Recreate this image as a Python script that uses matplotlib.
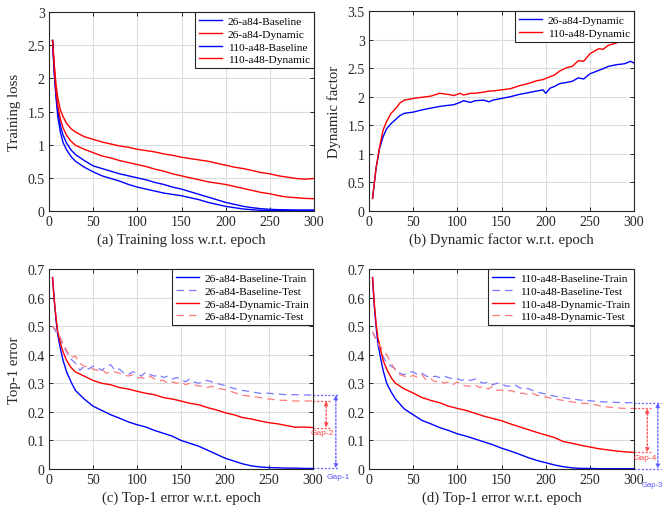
import matplotlib
matplotlib.use("Agg")
import matplotlib.pyplot as plt
from matplotlib.ticker import FuncFormatter

plt.rcParams['font.family'] = ['Liberation Serif', 'DejaVu Serif']

# ---------------- data ----------------
ep_a = [4, 6, 8, 10, 13, 16, 20, 25, 30, 40, 50, 60, 70, 80, 90, 100, 110, 120, 130, 140,
        150, 160, 170, 180, 190, 200, 210, 220, 230, 240, 250, 260, 270, 280, 290, 300]

loss_26_base = [2.57, 2.10, 1.75, 1.50, 1.28, 1.14, 1.02, 0.92, 0.85, 0.76, 0.68, 0.64, 0.60, 0.56,
                0.53, 0.50, 0.47, 0.43, 0.40, 0.36, 0.33, 0.29, 0.25, 0.21, 0.17, 0.13, 0.10, 0.07,
                0.05, 0.035, 0.025, 0.02, 0.018, 0.015, 0.015, 0.015]
loss_26_dyn = [2.57, 2.20, 1.90, 1.70, 1.52, 1.42, 1.32, 1.24, 1.19, 1.12, 1.08, 1.04, 1.01, 0.98,
               0.96, 0.93, 0.91, 0.89, 0.86, 0.84, 0.81, 0.79, 0.77, 0.75, 0.72, 0.69, 0.66, 0.64,
               0.61, 0.58, 0.56, 0.53, 0.51, 0.49, 0.48, 0.49]
loss_110_base = [2.57, 2.05, 1.70, 1.42, 1.18, 1.03, 0.92, 0.82, 0.75, 0.66, 0.59, 0.53, 0.49, 0.45,
                 0.40, 0.36, 0.33, 0.30, 0.27, 0.25, 0.23, 0.20, 0.17, 0.13, 0.10, 0.07, 0.05, 0.03,
                 0.02, 0.01, 0.008, 0.006, 0.005, 0.005, 0.005, 0.005]
loss_110_dyn = [2.57, 2.15, 1.80, 1.58, 1.38, 1.25, 1.14, 1.05, 0.99, 0.93, 0.88, 0.83, 0.80, 0.76,
                0.73, 0.70, 0.67, 0.63, 0.60, 0.56, 0.53, 0.50, 0.47, 0.44, 0.42, 0.40, 0.37, 0.34,
                0.31, 0.28, 0.26, 0.23, 0.21, 0.20, 0.19, 0.185]

ep_b = [4, 8, 12, 16, 20, 25, 30, 35, 40, 50, 60, 70, 80, 90, 96, 103, 107, 115, 120, 130, 136,
        140, 150, 160, 170, 180, 190, 197, 200, 205, 210, 216, 224, 230, 237, 243, 250, 260, 265,
        271, 280, 286, 290, 293, 296, 300]
dyn_26 = [0.22, 0.75, 1.10, 1.30, 1.44, 1.53, 1.60, 1.67, 1.71, 1.73, 1.77, 1.80, 1.83, 1.85, 1.86,
          1.90, 1.93, 1.90, 1.93, 1.94, 1.91, 1.94, 1.97, 2.00, 2.04, 2.07, 2.10, 2.12, 2.06, 2.15,
          2.18, 2.23, 2.25, 2.27, 2.33, 2.31, 2.40, 2.46, 2.49, 2.53, 2.56, 2.57, 2.58, 2.60, 2.62, 2.59]
dyn_110 = [0.22, 0.75, 1.12, 1.42, 1.57, 1.71, 1.79, 1.89, 1.94, 1.97, 1.99, 2.01, 2.06, 2.04, 2.02,
           2.06, 2.03, 2.06, 2.06, 2.08, 2.10, 2.10, 2.12, 2.14, 2.19, 2.23, 2.28, 2.30, 2.32, 2.35,
           2.38, 2.45, 2.51, 2.53, 2.63, 2.62, 2.75, 2.84, 2.83, 2.90, 2.94, 2.99, 2.98, 2.96, 3.00, 3.03]

ep_t = [4, 10, 15, 20, 25, 30, 35, 40, 45, 50, 55, 60, 65, 70, 75, 80, 85, 90, 95, 100, 105, 110,
        115, 120, 125, 130, 135, 140, 145, 150, 155, 160, 165, 170, 175, 180, 185, 190, 200, 210,
        220, 230, 240, 250, 260, 270, 280, 290, 300]

c_base_train = [0.67, 0.59, 0.52, 0.47, 0.42, 0.38, 0.34, 0.305, 0.275, 0.245, 0.22, 0.205, 0.19,
                0.178, 0.165, 0.155, 0.147, 0.135, 0.125, 0.115, 0.10, 0.09, 0.08, 0.066, 0.052,
                0.038, 0.028, 0.018, 0.011, 0.007, 0.005, 0.004, 0.003, 0.003, 0.002, 0.002]
c_dyn_train = [0.67, 0.59, 0.53, 0.48, 0.44, 0.41, 0.38, 0.355, 0.34, 0.325, 0.31, 0.30, 0.295,
               0.285, 0.28, 0.272, 0.265, 0.26, 0.25, 0.245, 0.238, 0.23, 0.225, 0.215, 0.207,
               0.197, 0.19, 0.18, 0.175, 0.168, 0.162, 0.158, 0.152, 0.146, 0.147, 0.145]
c_base_test = [0.50, 0.47, 0.44, 0.41, 0.385, 0.37, 0.345, 0.36, 0.35, 0.36, 0.355, 0.345, 0.36,
               0.365, 0.345, 0.35, 0.335, 0.33, 0.34, 0.335, 0.325, 0.34, 0.33, 0.325, 0.33, 0.32,
               0.325, 0.315, 0.32, 0.315, 0.305, 0.315, 0.305, 0.30, 0.305, 0.31, 0.305, 0.30,
               0.292, 0.282, 0.275, 0.27, 0.265, 0.265, 0.262, 0.26, 0.26, 0.259, 0.259]
c_dyn_test = [0.50, 0.48, 0.445, 0.415, 0.39, 0.395, 0.37, 0.36, 0.355, 0.35, 0.345, 0.35, 0.335,
              0.34, 0.34, 0.335, 0.33, 0.325, 0.33, 0.32, 0.32, 0.315, 0.325, 0.315, 0.31, 0.31,
              0.30, 0.305, 0.30, 0.305, 0.295, 0.30, 0.295, 0.29, 0.29, 0.285, 0.29, 0.283,
              0.278, 0.268, 0.258, 0.254, 0.25, 0.245, 0.241, 0.24, 0.238, 0.238, 0.238]

d_base_train = [0.67, 0.57, 0.50, 0.44, 0.39, 0.345, 0.30, 0.27, 0.245, 0.21, 0.19, 0.17, 0.158,
                0.145, 0.135, 0.123, 0.115, 0.105, 0.095, 0.085, 0.073, 0.063, 0.052, 0.04, 0.03,
                0.022, 0.014, 0.008, 0.004, 0.002, 0.002, 0.001, 0.001, 0.001, 0.001, 0.001]
d_dyn_train = [0.67, 0.58, 0.51, 0.46, 0.42, 0.38, 0.35, 0.32, 0.30, 0.28, 0.266, 0.25, 0.24,
               0.232, 0.22, 0.212, 0.205, 0.195, 0.185, 0.177, 0.169, 0.158, 0.148, 0.138, 0.128,
               0.119, 0.11, 0.096, 0.09, 0.083, 0.077, 0.071, 0.067, 0.063, 0.06, 0.058]
d_base_test = [0.48, 0.44, 0.40, 0.37, 0.36, 0.35, 0.335, 0.33, 0.34, 0.34, 0.33, 0.335, 0.325,
               0.32, 0.325, 0.32, 0.325, 0.32, 0.315, 0.316, 0.31, 0.315, 0.31, 0.315, 0.305, 0.30,
               0.305, 0.295, 0.30, 0.299, 0.29, 0.29, 0.295, 0.285, 0.28, 0.282, 0.275, 0.27,
               0.262, 0.255, 0.25, 0.245, 0.241, 0.239, 0.236, 0.234, 0.233, 0.232, 0.232]
d_dyn_test = [0.48, 0.44, 0.42, 0.40, 0.37, 0.345, 0.33, 0.325, 0.32, 0.328, 0.32, 0.33, 0.31,
              0.315, 0.305, 0.31, 0.30, 0.305, 0.295, 0.305, 0.295, 0.29, 0.29, 0.295, 0.285, 0.29,
              0.28, 0.29, 0.275, 0.276, 0.27, 0.275, 0.27, 0.265, 0.265, 0.26, 0.265, 0.258,
              0.252, 0.245, 0.24, 0.235, 0.23, 0.229, 0.222, 0.217, 0.214, 0.212, 0.212]

BLUE = '#0000ff'
RED = '#ff0000'
LBLUE = '#7a7aff'
LRED = '#ff7a7a'
TXT = '#262626'

fig = plt.figure(figsize=(6.64, 5.06), dpi=100)
W, H = 664, 506


def make_ax(l, t, r, b):
    return fig.add_axes([l / W, 1 - b / H, (r - l) / W, (b - t) / H])


axa = make_ax(49, 13, 314, 212)
axb = make_ax(369, 12, 634, 212)
axc = make_ax(49, 270, 313, 470)
axd = make_ax(369, 270, 634, 470)

fmt = FuncFormatter(lambda v, p: '%g' % round(v, 6))


def style(ax, ymax, ystep, xlabel, ylabel=None):
    ax.set_xlim(0, 300)
    ax.set_ylim(0, ymax)
    ax.set_xticks(range(0, 301, 50))
    n = int(round(ymax / ystep))
    ax.set_yticks([i * ystep for i in range(n + 1)])
    ax.xaxis.set_major_formatter(fmt)
    ax.yaxis.set_major_formatter(fmt)
    ax.grid(True, color='#dcdcdc', linewidth=0.8)
    ax.set_axisbelow(True)
    ax.tick_params(direction='in', length=3, width=0.7, top=True, right=True,
                   labelsize=10, colors=TXT, pad=3)
    for s in ax.spines.values():
        s.set_color('#262626')
        s.set_linewidth(0.8)
    ax.set_xlabel(xlabel, fontsize=10.6, color=TXT, labelpad=3)
    if ylabel:
        ax.set_ylabel(ylabel, fontsize=10.6, color=TXT, labelpad=5)


def leg(ax):
    lg = ax.legend(loc='upper right', fontsize=8.2, fancybox=False, framealpha=1,
                   edgecolor='#262626', borderaxespad=0, handlelength=2.0,
                   borderpad=0.35, labelspacing=0.25, handletextpad=0.5)
    lg.get_frame().set_linewidth(0.8)


# (a)
axa.plot(ep_a, loss_26_base, color=BLUE, lw=1, label='26-a84-Baseline')
axa.plot(ep_a, loss_26_dyn, color=RED, lw=1, label='26-a84-Dynamic')
axa.plot(ep_a, loss_110_base, color=BLUE, lw=1, label='110-a48-Baseline')
axa.plot(ep_a, loss_110_dyn, color=RED, lw=1, label='110-a48-Dynamic')
style(axa, 3, 0.5, '(a) Training loss w.r.t. epoch', 'Training loss')
leg(axa)

# (b)
axb.plot(ep_b, dyn_26, color=BLUE, lw=1, label='26-a84-Dynamic')
axb.plot(ep_b, dyn_110, color=RED, lw=1, label='110-a48-Dynamic')
style(axb, 3.5, 0.5, '(b) Dynamic factor w.r.t. epoch', 'Dynamic factor')
leg(axb)

# (c)
axc.plot(ep_a, c_base_train, color=BLUE, lw=1, label='26-a84-Baseline-Train')
axc.plot(ep_t, c_base_test, color=LBLUE, lw=0.9, ls=(0, (6, 4)), label='26-a84-Baseline-Test')
axc.plot(ep_a, c_dyn_train, color=RED, lw=1, label='26-a84-Dynamic-Train')
axc.plot(ep_t, c_dyn_test, color=LRED, lw=0.9, ls=(0, (6, 4)), label='26-a84-Dynamic-Test')
style(axc, 0.7, 0.1, '(c) Top-1 error w.r.t. epoch', 'Top-1 error')
leg(axc)

# (d)
axd.plot(ep_a, d_base_train, color=BLUE, lw=1, label='110-a48-Baseline-Train')
axd.plot(ep_t, d_base_test, color=LBLUE, lw=0.9, ls=(0, (6, 4)), label='110-a48-Baseline-Test')
axd.plot(ep_a, d_dyn_train, color=RED, lw=1, label='110-a48-Dynamic-Train')
axd.plot(ep_t, d_dyn_test, color=LRED, lw=0.9, ls=(0, (6, 4)), label='110-a48-Dynamic-Test')
style(axd, 0.7, 0.1, '(d) Top-1 error w.r.t. epoch')
leg(axd)


def gap(ax, top, bot, x_arrow, x_end, color, label, lx, ly, ha='center', fs=6):
    for yv in (top, bot):
        ax.plot([300, x_end], [yv, yv], color=color, lw=0.9, ls=(0, (1.5, 1.5)), clip_on=False)
    ax.annotate('', xy=(x_arrow, bot), xytext=(x_arrow, top), annotation_clip=False,
                arrowprops=dict(arrowstyle='<|-|>', color=color, lw=0.9, ls=(0, (1.5, 1.5)),
                                mutation_scale=6, shrinkA=0, shrinkB=0))
    ax.text(lx, ly, label, color=color, fontsize=fs, family=['Liberation Sans', 'DejaVu Sans'],
            ha=ha, va='center', clip_on=False)


gap(axc, c_base_test[-1], c_base_train[-1], 326, 330, '#5a5aff', 'Gap-1', 329, -0.025)
gap(axc, c_dyn_test[-1], c_dyn_train[-1], 315, 320, '#ff4a4a', 'Gap-2', 311, 0.127)
gap(axd, d_base_test[-1], d_base_train[-1], 327, 331, '#5a5aff', 'Gap-3', 333.2, -0.056,
    ha='right', fs=5.5)
gap(axd, d_dyn_test[-1], d_dyn_train[-1], 315, 320, '#ff4a4a', 'Gap-4', 313, 0.04)

fig.savefig('out.png', dpi=100)
